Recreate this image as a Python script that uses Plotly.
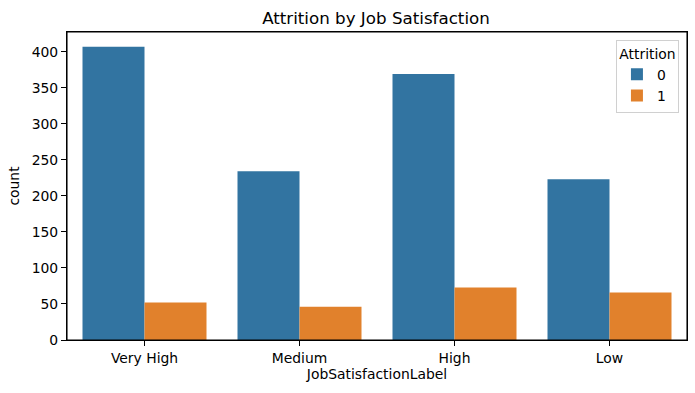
import plotly.graph_objects as go

categories = ["Very High", "Medium", "High", "Low"]
attrition_0 = [407, 234, 369, 223]
attrition_1 = [52, 46, 73, 66]
hue_labels = ["0", "1"]
colors = ["#3274a1", "#e1812c"]

fig = go.Figure()
for name, vals, c in zip(hue_labels, [attrition_0, attrition_1], colors):
    fig.add_trace(go.Bar(x=categories, y=vals, name=name, marker=dict(color=c, line=dict(width=0))))

font = "DejaVu Sans"
fig.update_layout(
    width=695, height=393,
    margin=dict(l=67, r=8, t=32, b=53, autoexpand=False),
    plot_bgcolor="white", paper_bgcolor="white",
    barmode="group", bargap=0.2, bargroupgap=0,
    font=dict(family=font, size=13.9, color="black"),
    title=dict(text="Attrition by Job Satisfaction", x=0.541, xanchor="center", y=0.955, yanchor="middle",
               font=dict(family=font, size=16.7, color="black")),
    legend=dict(title=dict(text="Attrition", side="top center", font=dict(size=13.9)),
                x=0.987, xanchor="right", y=0.975, yanchor="top",
                bgcolor="white", bordercolor="#d0d0d0", borderwidth=1,
                itemwidth=30, tracegroupgap=2, font=dict(size=13.9)),
    xaxis=dict(range=[-0.5, 3.5], showline=True, linecolor="black", linewidth=1.1, mirror=True,
               ticks="outside", ticklen=5, tickcolor="black", showgrid=False,
               title=dict(text="JobSatisfactionLabel", standoff=4, font=dict(size=13.9))),
    yaxis=dict(range=[0, 427.35], showline=True, linecolor="black", linewidth=1.1, mirror=True,
               ticks="outside", ticklen=5, tickcolor="black", showgrid=False, zeroline=False,
               tickvals=[0, 50, 100, 150, 200, 250, 300, 350, 400],
               title=dict(text="count", standoff=8, font=dict(size=13.9))),
    shapes=[dict(type="rect", xref="paper", yref="paper", x0=0, x1=1, y0=0, y1=1,
                 line=dict(color="black", width=1.1), fillcolor="rgba(0,0,0,0)", layer="above")],
)
fig.write_html("out.html", config={"displayModeBar": False},
               post_script="document.body.style.margin='0';")
